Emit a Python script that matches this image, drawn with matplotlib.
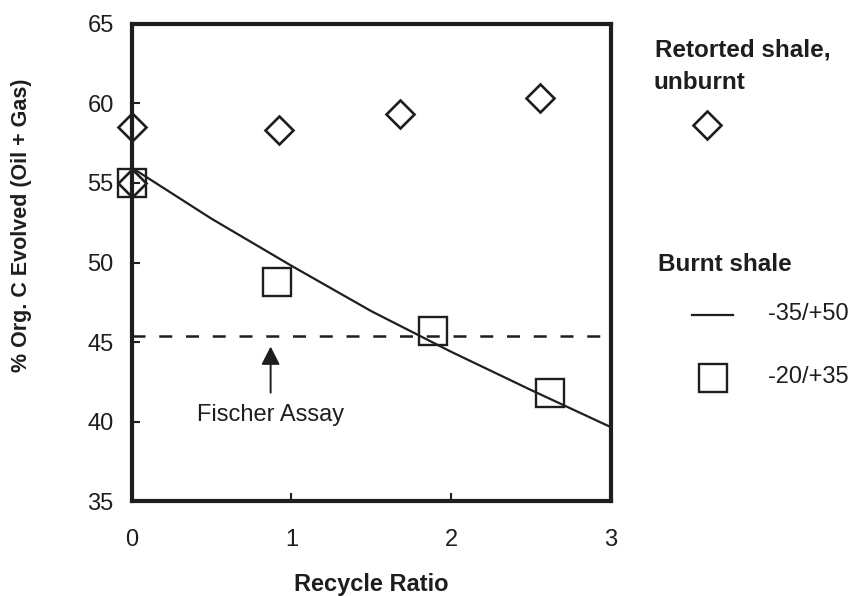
import matplotlib
matplotlib.use("Agg")
import matplotlib.pyplot as plt
from matplotlib.lines import Line2D

plt.rcParams['font.family'] = ['Liberation Sans', 'DejaVu Sans']

INK = '#1e1e1e'

# Retorted shale, unburnt (diamonds)
unburnt_ratio = [0.0, 0.0, 0.92, 1.68, 2.56]
unburnt_carbon = [58.5, 55.0, 58.3, 59.3, 60.3]

# Burnt shale, -20/+35 mesh (squares)
burnt_fine_ratio = [0.0, 0.91, 1.89, 2.62]
burnt_fine_carbon = [55.0, 48.8, 45.7, 41.8]

# Burnt shale, -35/+50 mesh (smooth curve)
burnt_coarse_ratio = [0.0, 0.5, 1.0, 1.5, 2.0, 2.5, 3.0]
burnt_coarse_carbon = [55.96, 52.75, 49.8, 46.95, 44.4, 42.0, 39.67]

fischer_assay = 45.4
x_ticks = [0, 1, 2, 3]
y_ticks = [35, 40, 45, 50, 55, 60, 65]

fig = plt.figure(figsize=(8.63, 5.96), dpi=100)
ax = fig.add_axes([0.1526, 0.1586, 0.5551, 0.8018])

ax.plot(burnt_coarse_ratio, burnt_coarse_carbon, color=INK, lw=1.6)
ax.plot([0, 3], [fischer_assay, fischer_assay], color=INK, lw=1.8,
        linestyle=(0, (5.2, 5.5)))
ax.plot(burnt_fine_ratio, burnt_fine_carbon, linestyle='none', marker='s',
        ms=19.5, mfc='none', mec=INK, mew=1.7, clip_on=False)
ax.plot(unburnt_ratio, unburnt_carbon, linestyle='none', marker='D',
        ms=14.5, mfc='none', mec=INK, mew=1.9, clip_on=False)

# Fischer assay marker
ax.annotate('', xy=(0.87, 44.73), xytext=(0.87, 41.83),
            arrowprops=dict(arrowstyle='-|>,head_length=0.55,head_width=0.28',
                            mutation_scale=20, color=INK, lw=1.4,
                            shrinkA=0, shrinkB=0))
ax.text(0.87, 40.03, 'Fischer Assay', ha='center', va='baseline',
        fontsize=17, color=INK)

ax.set_xlim(0, 3)
ax.set_ylim(35, 65)
ax.set_xticks(x_ticks)
ax.set_yticks(y_ticks)
ax.tick_params(direction='in', length=6, width=1.5, colors=INK,
               labelsize=17, top=False, right=False)
ax.tick_params(axis='x', pad=20)
ax.tick_params(axis='y', pad=13)
for side in ax.spines.values():
    side.set_linewidth(3)
    side.set_color(INK)

ax.set_xlabel('Recycle Ratio', fontsize=17, fontweight='bold', color=INK)
ax.xaxis.set_label_coords(0.5, -0.1496)
ax.xaxis.label.set_va('top')
ax.set_ylabel('% Org. C Evolved (Oil + Gas)', fontsize=15.5,
              fontweight='bold', color=INK)
ax.yaxis.label.set_va('center')
ax.yaxis.set_label_coords(-0.230, 0.5786)

# key on the right
fig.text(0.759, 0.9044, 'Retorted shale,', fontsize=17.5, fontweight='bold',
         color=INK, va='baseline')
fig.text(0.7567, 0.8507, 'unburnt', fontsize=17.5, fontweight='bold',
         color=INK, va='baseline')
fig.add_artist(Line2D([0.8189], [0.7903], transform=fig.transFigure,
                      marker='D', ms=14.5, mfc='none', mec=INK, mew=1.9))

fig.text(0.7625, 0.5453, 'Burnt shale', fontsize=17.5, fontweight='bold',
         color=INK, va='baseline')
fig.add_artist(Line2D([0.8018, 0.8494], [0.4715, 0.4715],
                      transform=fig.transFigure, color=INK, lw=1.6))
fig.text(0.8899, 0.4631, '-35/+50', fontsize=17, color=INK, va='baseline')
fig.add_artist(Line2D([0.8262], [0.3658], transform=fig.transFigure,
                      marker='s', ms=19.5, mfc='none', mec=INK, mew=1.7))
fig.text(0.8899, 0.3574, '-20/+35', fontsize=17, color=INK, va='baseline')

fig.savefig('out.png', dpi=100, facecolor='white')
